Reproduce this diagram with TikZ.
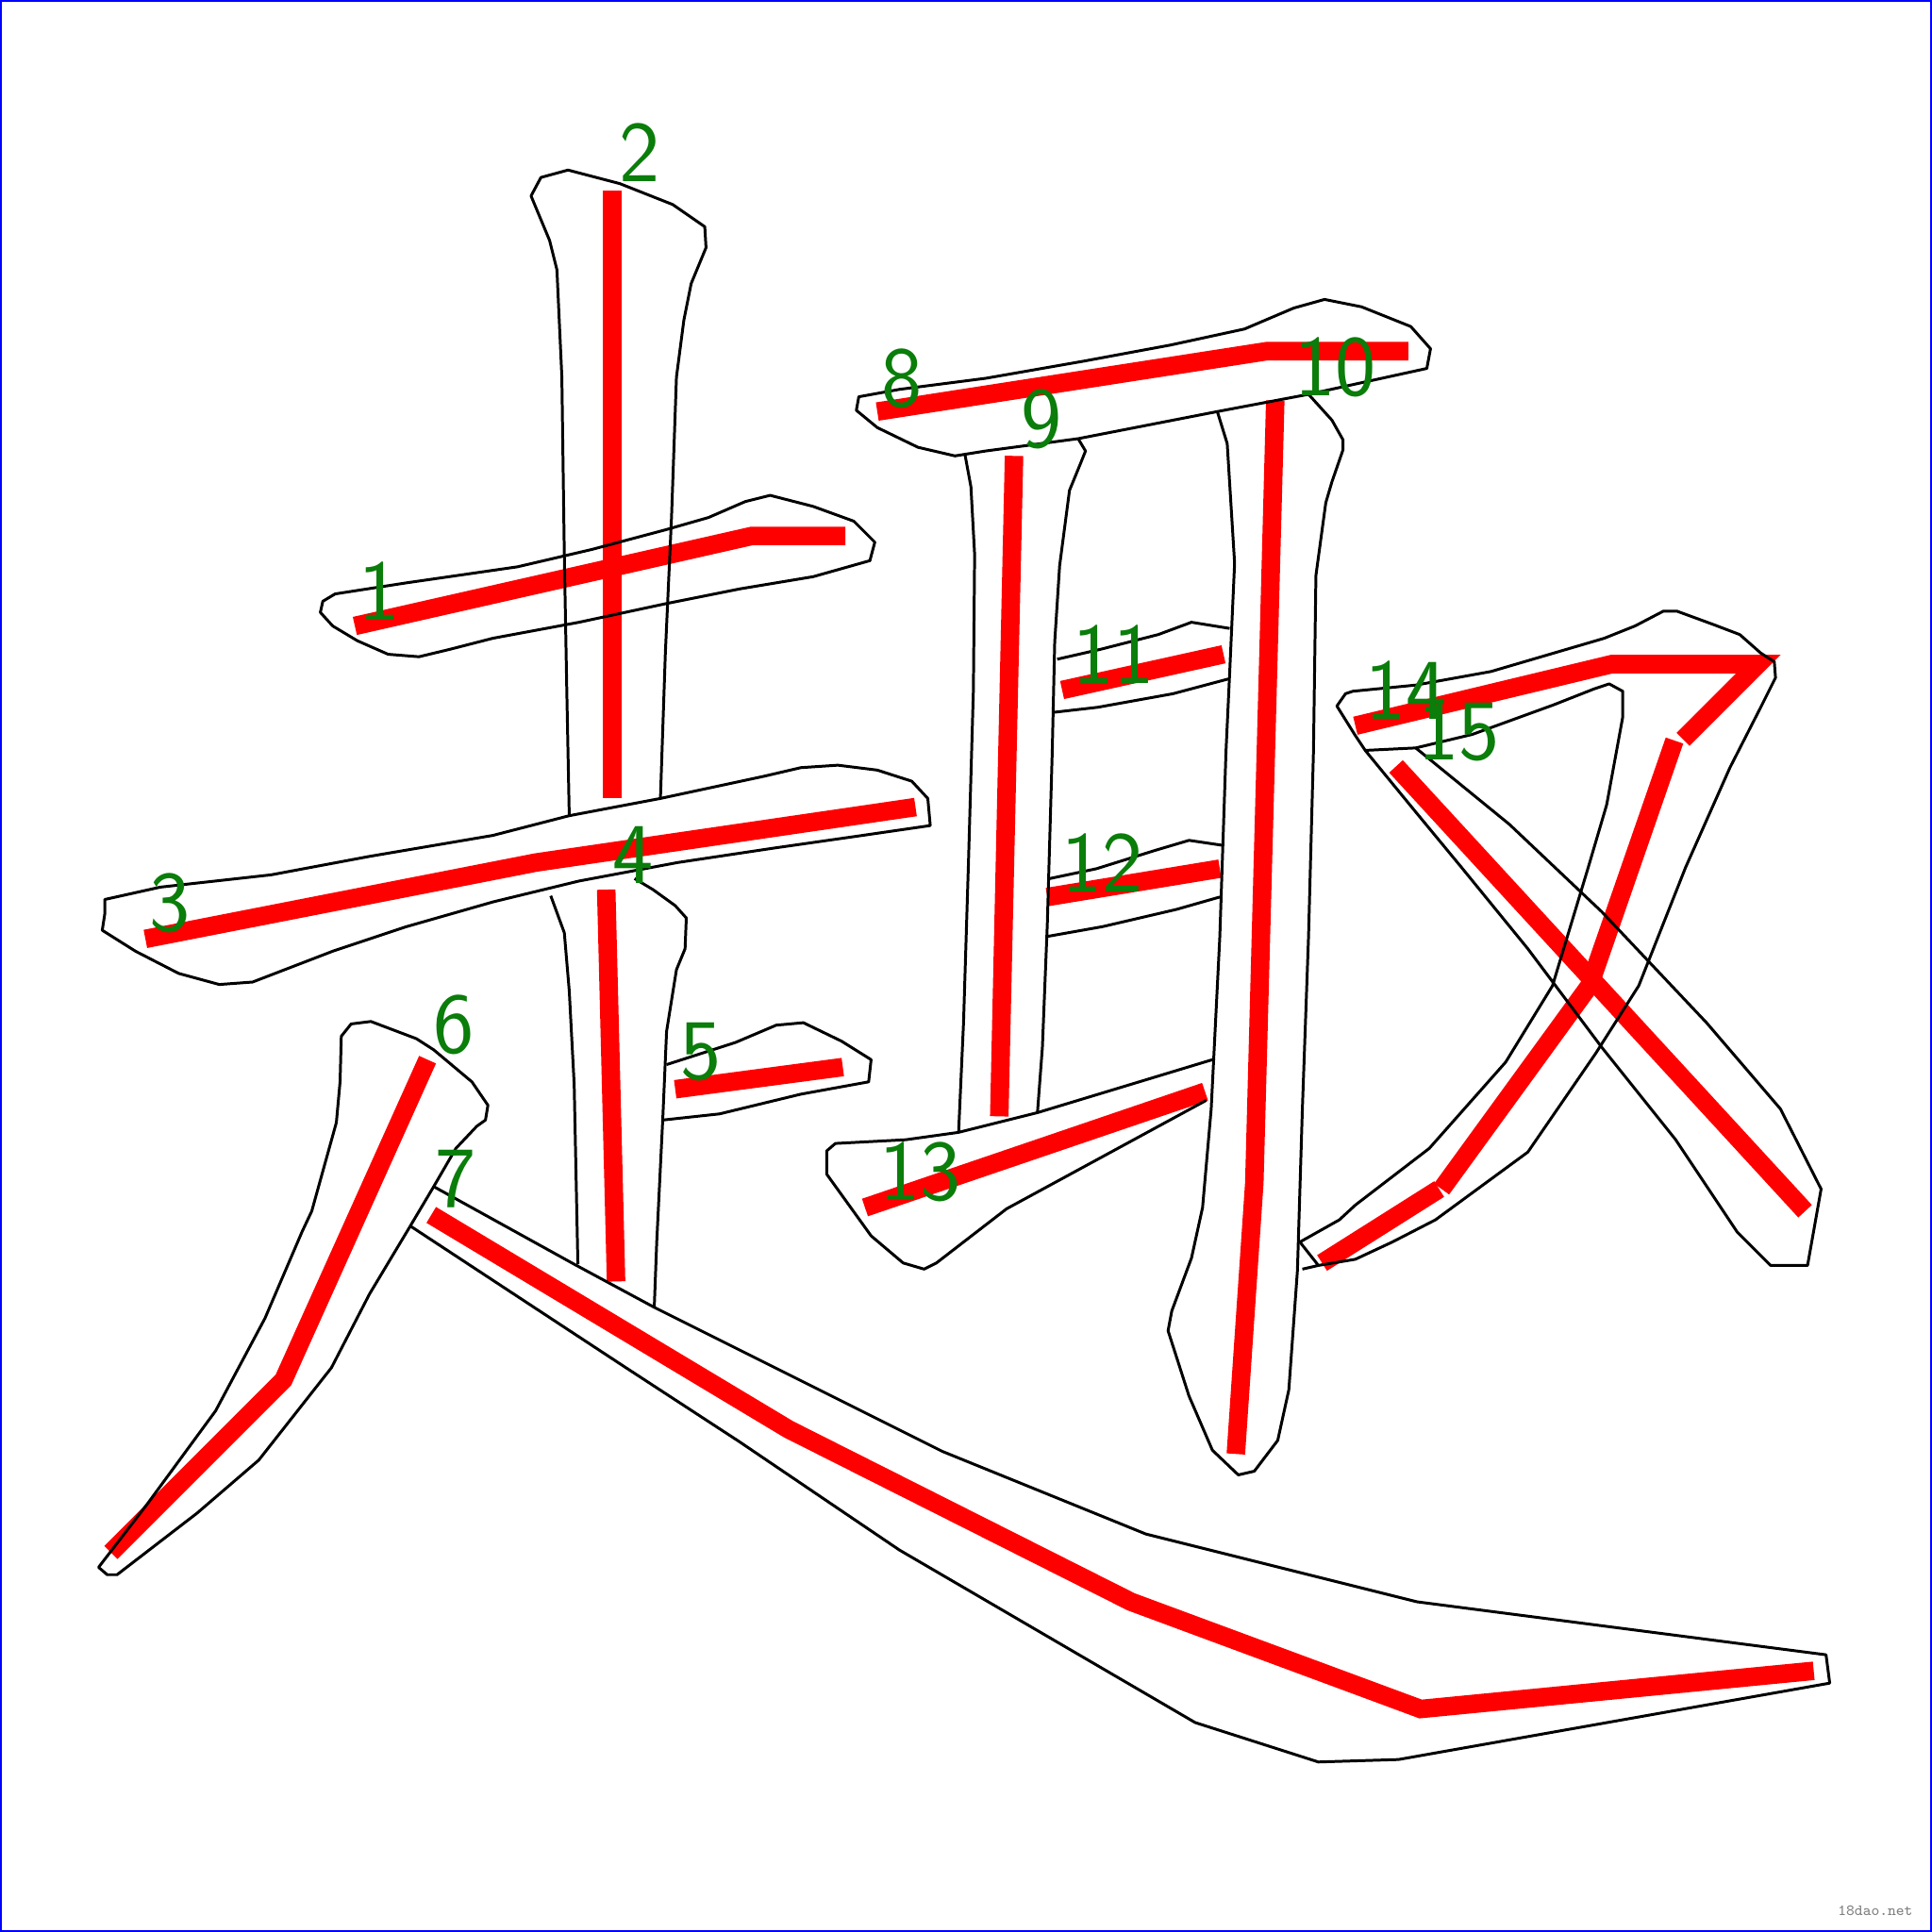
\documentclass[tikz,border=0pt]{standalone}
\definecolor{vert}{RGB}{10,125,10}
\tikzstyle{contour}=[line width=0.65pt,line join=round]
\tikzstyle{trait}=[red,line width=0.15cm]
\tikzstyle{numero}=[text=vert,inner sep=0pt,font=\sffamily\fontsize{20}{20}\selectfont]
\tikzstyle{marque}=[text=gray,inner sep=0pt,font=\ttfamily\fontsize{3.6}{4}\selectfont]

\begin{document}
\begin{tikzpicture}
  \begin{scope}[x=0.01cm,y=-0.01cm]%
\useasboundingbox (0,0) rectangle (1568,1568);
\draw[blue,line width=0.015cm] (1,1) rectangle (1567,1567);
% ordre des traits
\draw [trait] (288,508) -- (610,435) -- (686,435);
\draw [trait] (497,155) -- (497,648);
\draw [trait] (118,762) -- (435,700) -- (743,655);
\draw [trait] (492,722) -- (500,1040);
\draw [trait] (548,884) -- (684,866);
\draw [trait] (347,860) -- (230,1120) -- (90,1260);
\draw [trait] (350,986) -- (640,1160) -- (918,1300) -- (1153,1387) -- (1472,1356);
\draw [trait] (712,334) -- (1028,285) -- (1143,285);
\draw [trait] (823,370) -- (811,906);
\draw [trait] (1035,325) -- (1018,960) -- (1003,1180);
\draw [trait] (862,560) -- (993,531);
\draw [trait] (850,728) -- (990,705);
\draw [trait] (702,980) -- (978,886);
\draw [trait] (1100,589) -- (1308,539) -- (1427,539) -- (1366,600);
\draw [trait] (1359,601) -- (1290,800) -- (1170,965);
\draw [trait] (1168,965) -- (1073,1025);
\draw [trait] (1133,622) -- (1465,983);
% contours
\draw [contour] (262,488) -- (272,482) -- (330,473) -- (420,460) -- (480,446) -- (540,430) -- (575,420) -- (605,407) -- (625,402) -- (660,411) -- (693,423) -- (710,440) -- (706,455) -- (660,468) -- (600,478) -- (540,490) -- (470,505) -- (400,518) -- (365,527) -- (340,533) -- (315,531) -- (290,520) -- (270,508) -- (260,497) -- cycle;
\draw [contour] (462,662) -- (460,560) -- (458,450) -- (456,306) -- (452,219) -- (446,195) -- (431,159) -- (439,144) -- (461,138) -- (503,149) -- (546,166) -- (572,184) -- (573,201) -- (561,230) -- (555,260) -- (549,306) -- (545,420) -- (540,530) -- (536,648);
\draw [contour] (85,730) -- (130,720) -- (220,710) -- (300,695) -- (400,678) -- (462,662) -- (536,648) -- (620,630) -- (650,623) -- (680,621) -- (712,625) -- (740,634) -- (753,648) -- (755,670) -- (700,678) -- (630,688) -- (550,700) -- (470,715) -- (400,732) -- (330,752) -- (270,772) -- (205,797) -- (178,799) -- (145,790) -- (110,772) -- (83,755) -- (85,742) -- cycle;
\draw [contour] (447,727) -- (458,757) -- (462,804) -- (466,880) -- (469,1026);
\draw [contour] (515,713) -- (530,722) -- (548,735) -- (557,745) -- (556,770) -- (549,787) -- (541,837) -- (538,906) -- (533,1008) -- (531,1061);
\draw [contour] (541,864) -- (597,846) -- (630,832) -- (652,830) -- (683,845) -- (707,860) -- (705,878) -- (650,888) -- (584,904) -- (538,909);
\draw [contour] (277,841) -- (285,831) -- (301,829) -- (338,843) -- (352,852) -- (383,878) -- (396,897) -- (394,909) -- (387,914) -- (370,932) -- (352,963) -- (333,995) -- (300,1050) -- (269,1110) -- (210,1185) -- (160,1228) -- (95,1278) -- (87,1278) -- (80,1272) -- (120,1220) -- (175,1145) -- (215,1070) -- (245,1000) -- (253,983) -- (273,911) -- (276,878) -- cycle;
\draw [contour] (352,963) -- (466,1026) -- (531,1061) -- (597,1094) -- (765,1178) -- (930,1245) -- (1150,1300) -- (1482,1343) -- (1485,1366) -- (1135,1428) -- (1070,1430) -- (970,1398) -- (730,1258) -- (600,1170) -- (508,1110) -- (333,995);
\draw [contour] (697,322) -- (730,316) -- (800,307) -- (880,293) -- (950,280) -- (1010,267) -- (1050,250) -- (1075,243) -- (1105,249) -- (1145,265) -- (1161,283) -- (1158,299) -- (1062,320) -- (988,334) -- (875,356) -- (800,366) -- (775,370) -- (745,363) -- (712,347) -- (695,333) -- cycle;
\draw [contour] (783,368) -- (788,395) -- (791,450) -- (790,560) -- (786,700) -- (782,830) -- (778,919);
\draw [contour] (875,356) -- (881,366) -- (877,376) -- (868,398) -- (860,459) -- (856,521) -- (854,610) -- (850,750) -- (846,850) -- (842,903);
\draw [contour] (988,334) -- (996,360) -- (1002,457) -- (998,546) -- (995,610) -- (990,760) -- (983,900) -- (976,980) -- (967,1021) -- (951,1064) -- (948,1080) -- (965,1133) -- (984,1177) -- (1005,1197) -- (1018,1194) -- (1037,1169) -- (1046,1128) -- (1053,1031) -- (1057,900) -- (1062,760) -- (1066,610) -- (1068,467) -- (1076,408) -- (1081,391) -- (1090,365) -- (1090,357) -- (1081,341) -- (1062,320);
\draw [contour] (858,535) -- (893,527) -- (940,515) -- (967,505) -- (998,510);
\draw [contour] (856,578) -- (891,574) -- (952,563) -- (997,551);
\draw [contour] (852,713) -- (890,705) -- (938,690) -- (965,682) -- (992,686);
\draw [contour] (850,760) -- (895,752) -- (955,738) -- (990,728);
\draw [contour] (984,860) -- (842,903) -- (778,919) -- (735,925) -- (678,928) -- (671,934) -- (671,953) -- (707,1003) -- (733,1025) -- (750,1030) -- (760,1025) -- (817,981) -- (979,893);
\draw [contour] (1057,1030) -- (1070,1027) -- (1055,1008) -- (1087,990) -- (1100,978) -- (1160,932) -- (1222,862) -- (1260,800) -- (1289,704) -- (1304,653) -- (1317,582) -- (1317,561) -- (1306,555) -- (1294,559) -- (1261,572) -- (1195,596) -- (1149,607) -- (1108,609) -- (1100,597) -- (1085,573) -- (1092,563) -- (1098,561) -- (1149,556) -- (1210,545) -- (1302,518) -- (1327,508) -- (1350,496) -- (1361,496) -- (1391,507) -- (1412,515) -- (1429,530) -- (1440,537) -- (1441,550) -- (1429,574) -- (1404,623) -- (1368,704) -- (1330,800) -- (1295,855) -- (1240,935) -- (1165,990) -- (1130,1008) -- (1100,1022) -- (1070,1027);
\draw [contour] (1149,607) -- (1225,669) -- (1300,740) -- (1385,830) -- (1445,900) -- (1478,965) -- (1467,1027) -- (1437,1027) -- (1410,1000) -- (1390,970) -- (1360,925) -- (1300,850) -- (1240,770) -- (1187,705) -- (1149,659) -- (1108,609);
% numeros
\foreach \n/\x/\y in {1/308/480,2/519/124,3/138/733,4/514/694,5/569/854,6/368/832,7/370/957,8/732/307,9/845/340,10/1084/298,11/904/531,12/895/700,13/747/951,14/1141/560,15/1184/594}
\node [numero] (num\n) at (\x,\y) {\n};
\node [marque] (site) at (1522,1551) {18dao.net};
  \end{scope}
\end{tikzpicture}
\end{document}
